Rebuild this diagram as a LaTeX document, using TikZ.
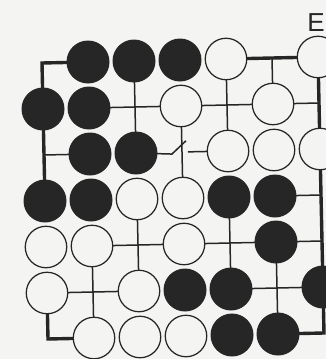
\documentclass[tikz,border=0pt]{standalone}
\usepackage{fontspec}
\usetikzlibrary{calc}
\setmainfont{Liberation Sans}
\definecolor{bg}{RGB}{244,244,242}
\definecolor{ink}{RGB}{38,38,38}
\begin{document}
\begin{tikzpicture}[x=1pt,y=1pt,
  gridline/.style={ink,line width=1.5pt},
  edgeline/.style={ink,line width=3.4pt},
  blackstone/.style={circle,fill=ink,minimum size=43pt,inner sep=0pt},
  whitestone/.style={circle,draw=ink,fill=bg,line width=1.25pt,minimum size=41.5pt,inner sep=0pt},
  label/.style={font=\fontsize{26}{26}\selectfont,text=ink,inner sep=0pt}]
\fill[bg] (0,0) rectangle (326,-359);
\useasboundingbox (0,0) rectangle (326,-359);
\node[label] (E) at (316,-23) {E};
\begin{scope}[shift={(42,-63)},x={(46pt,1pt)},y={(1pt,-46pt)}]
  \foreach \c in {0,...,6}
    \foreach \r in {0,...,6}
      \coordinate (p\c\r) at (\c,\r);
  % board edges
  \draw[edgeline] (p10) -- (p00) -- (p03);
  \draw[edgeline] (p05) -- (p06) -- (p16);
  \draw[edgeline] (p40) -- (p60) -- (p66) -- (p56);
  % interior lines
  \draw[gridline] (p11) -- (p61);
  \draw[gridline] (p02) -- (p12);
  \draw[gridline] (p53) -- (p63);
  \draw[gridline] (p14) -- (p64);
  \draw[gridline] (p05) -- (p25);
  \draw[gridline] (p45) -- (p65);
  \draw[gridline] (p14) -- (p16);
  \draw[gridline] (p20) -- (p22);
  \draw[gridline] (p23) -- (p25);
  \draw[gridline] (p31) -- (p33);
  \draw[gridline] (p40) -- (p42);
  \draw[gridline] (p43) -- (p45);
  \draw[gridline] (p50) -- (p51);
  \draw[gridline] (p54) -- (p56);
  % marked point
  \coordinate (mkL) at ($(p32)+(-0.22,0.04)$);
  \coordinate (mkT) at ($(p32)+(0.09,-0.24)$);
  \coordinate (mkR) at ($(p32)+(0.13,0)$);
  \draw[gridline] (p22) -- (mkL) -- (mkT);
  \draw[gridline] (mkR) -- (p42);
  % stones
  \foreach \c/\r in {1/0,2/0,3/0,0/1,1/1,1/2,2/2,0/3,1/3,4/3,5/3,5/4,3/5,4/5,6/5,4/6,5/6}
    \node[blackstone] (b\c\r) at (p\c\r) {};
  \foreach \c/\r in {4/0,6/0,3/1,5/1,4/2,5/2,6/2,2/3,3/3,0/4,1/4,3/4,0/5,2/5,1/6,2/6,3/6}
    \node[whitestone] (w\c\r) at (p\c\r) {};
\end{scope}
\end{tikzpicture}
\end{document}
